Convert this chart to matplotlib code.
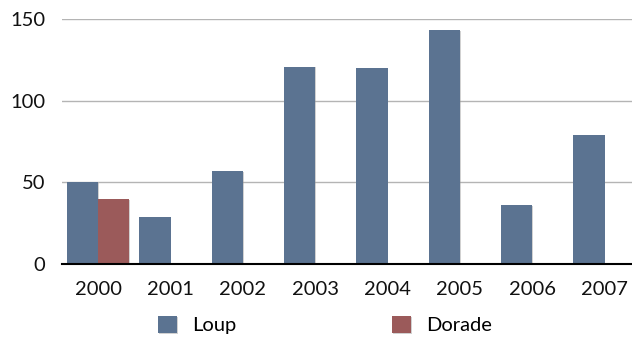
import numpy as np
import matplotlib.pyplot as plt
import matplotlib.patheffects as pe

years  = ['2000', '2001', '2002', '2003', '2004', '2005', '2006', '2007']
loup   = [50, 29, 57, 121, 120, 143.5, 36, 79]
dorade = [40, 0, 0, 0, 0, 0, 0, 0]

plt.rcParams['font.family'] = ['Lato', 'DejaVu Sans']

fig = plt.figure(figsize=(6.32, 3.38), dpi=100)
ax = fig.add_axes([62/632, 74/338, 1 - 62/632, 244.7/338])

x = np.arange(len(years))
w = 0.43
shadow = [pe.SimplePatchShadow(offset=(0.6, -0.6), shadow_rgbFace='#999999', alpha=0.45), pe.Normal()]

b1 = ax.bar(x - w/2, loup, w, color='#5b7391', label='Loup', zorder=3)
b2 = ax.bar(x + w/2, dorade, w, color='#9b5a5a', label='Dorade', zorder=3)
for b in list(b1) + list(b2):
    b.set_path_effects(shadow)

ax.set_xlim(-0.5, 7.38)
ax.set_ylim(0, 150)
ax.set_yticks([0, 50, 100, 150])
ax.set_xticks(x)
ax.set_xticklabels(years)
ax.yaxis.grid(True, color='#b4b4b4', lw=1)
ax.set_axisbelow(True)
for s in ['top', 'right', 'left']:
    ax.spines[s].set_visible(False)
ax.spines['bottom'].set_color('black')
ax.spines['bottom'].set_linewidth(1.5)
ax.spines['bottom'].set_zorder(4)
ax.tick_params(length=0, labelsize=14.5, colors='#111111')
ax.tick_params(axis='y', pad=12)
ax.tick_params(axis='x', pad=12)

fig.legend(loc='center', bbox_to_anchor=(325/632, 13/338), ncol=2, frameon=False,
           fontsize=14.5, handlelength=0.95, handleheight=0.95, handletextpad=0.75,
           columnspacing=7.7, borderpad=0)

fig.savefig('out.png', dpi=100)
